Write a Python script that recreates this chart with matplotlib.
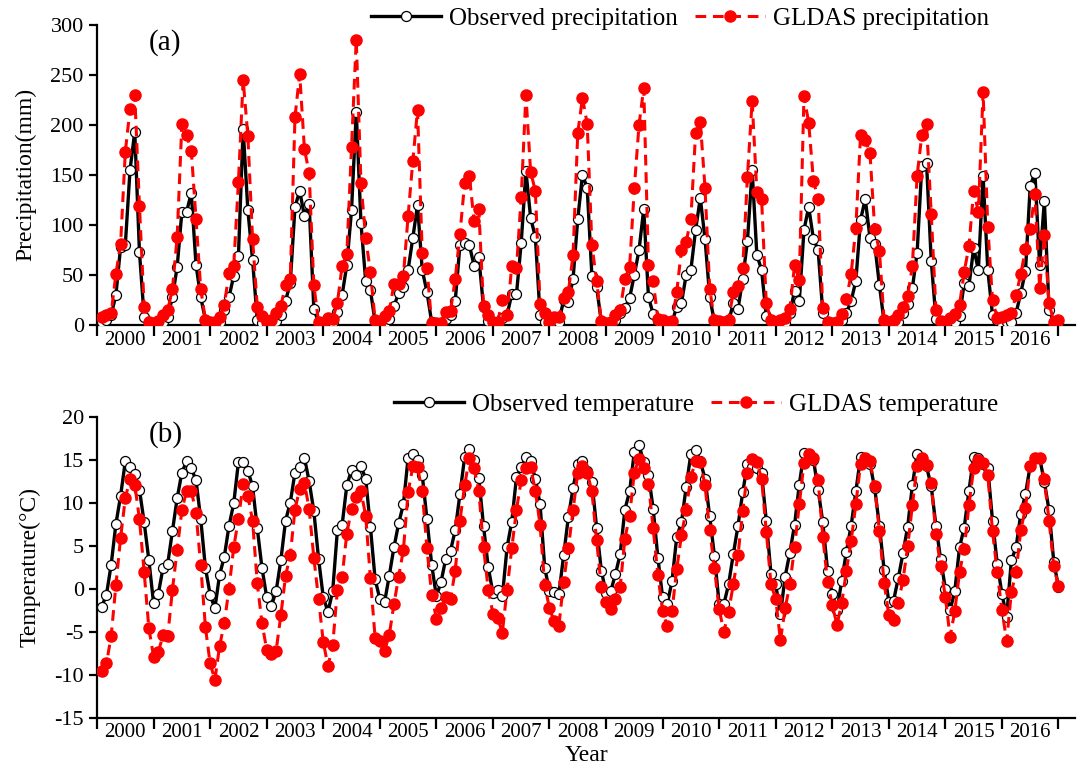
import numpy as np
import matplotlib
matplotlib.use("Agg")
from matplotlib import pyplot as plt
from matplotlib.ticker import FixedLocator, FixedFormatter

plt.rcParams['font.family'] = ['Liberation Serif', 'DejaVu Serif']
plt.rcParams['axes.unicode_minus'] = False

years = [str(y) for y in range(2000, 2017)]

# monthly values, one row per year (Jan..Dec)
obs_prcp = [
    [3, 5, 10, 30, 78, 80, 155, 193, 73, 8, 2, 1],
    [1, 3, 8, 28, 58, 113, 113, 132, 60, 28, 5, 1],
    [1, 3, 15, 28, 49, 69, 196, 115, 65, 5, 2, 1],
    [1, 4, 10, 24, 42, 118, 134, 109, 121, 16, 3, 1],
    [1, 3, 13, 30, 60, 115, 213, 102, 44, 35, 3, 1],
    [2, 6, 19, 32, 38, 55, 87, 120, 55, 33, 3, 1],
    [1, 6, 10, 24, 80, 82, 80, 59, 68, 18, 4, 1],
    [2, 7, 10, 31, 31, 82, 154, 107, 88, 10, 3, 1],
    [2, 3, 25, 23, 46, 106, 150, 137, 49, 38, 3, 1],
    [1, 5, 12, 17, 27, 50, 75, 116, 28, 11, 4, 1],
    [1, 3, 18, 22, 50, 55, 95, 127, 86, 28, 3, 1],
    [1, 3, 22, 16, 46, 84, 155, 70, 55, 9, 3, 1],
    [1, 2, 12, 34, 24, 95, 118, 86, 75, 12, 3, 1],
    [1, 5, 12, 24, 44, 105, 126, 87, 81, 40, 3, 1],
    [1, 3, 12, 21, 37, 72, 159, 162, 64, 6, 2, 1],
    [1, 3, 9, 42, 39, 77, 55, 149, 55, 10, 5, 1],
    [3, 3, 12, 32, 54, 139, 152, 60, 124, 15, 3, 2],
]
gldas_prcp = [
    [8, 10, 12, 51, 81, 173, 216, 230, 119, 18, 3, 2],
    [4, 10, 15, 36, 88, 201, 190, 174, 106, 36, 5, 3],
    [3, 8, 20, 52, 59, 143, 245, 189, 86, 18, 9, 3],
    [5, 12, 19, 40, 46, 208, 251, 176, 152, 40, 3, 2],
    [7, 6, 22, 59, 71, 178, 285, 142, 87, 53, 5, 3],
    [9, 14, 41, 41, 49, 109, 164, 215, 72, 57, 2, 2],
    [2, 13, 14, 46, 91, 142, 149, 104, 116, 19, 10, 3],
    [3, 25, 10, 59, 57, 128, 230, 153, 134, 21, 12, 3],
    [8, 8, 27, 33, 70, 192, 227, 201, 80, 44, 4, 2],
    [3, 10, 15, 46, 58, 137, 200, 237, 60, 44, 6, 5],
    [3, 4, 33, 75, 83, 106, 192, 203, 137, 36, 5, 4],
    [3, 5, 33, 39, 57, 148, 224, 133, 126, 22, 5, 3],
    [5, 7, 16, 60, 45, 229, 202, 144, 126, 17, 3, 2],
    [3, 11, 26, 51, 97, 190, 185, 172, 96, 74, 5, 3],
    [5, 10, 18, 29, 59, 149, 190, 201, 111, 15, 4, 3],
    [7, 11, 20, 53, 79, 134, 113, 233, 98, 25, 7, 8],
    [10, 12, 30, 51, 76, 96, 131, 37, 90, 22, 3, 5],
]
obs_temp = [
    [-2.1, -0.7, 2.8, 7.5, 10.8, 14.8, 14.1, 13.3, 11.5, 7.7, 3.3, -1.7],
    [-0.6, 2.4, 2.9, 6.7, 10.5, 13.5, 14.8, 14.0, 12.6, 8.1, 2.4, -0.7],
    [-2.3, 1.6, 3.7, 7.3, 9.9, 14.7, 14.7, 13.7, 11.9, 7.0, 2.4, -1.0],
    [-2.0, -0.3, 3.3, 7.9, 10.0, 13.5, 14.1, 15.2, 12.5, 9.0, 3.5, -1.0],
    [-2.7, -0.3, 6.8, 7.4, 12.0, 13.8, 13.2, 14.2, 12.8, 7.2, 1.1, -1.2],
    [-1.6, 1.5, 4.8, 7.6, 9.8, 15.2, 15.6, 14.9, 13.2, 8.1, 2.8, -0.9],
    [0.8, 3.5, 4.4, 6.8, 11.0, 15.3, 16.2, 15.0, 12.9, 7.3, 2.5, -0.5],
    [-0.1, -0.9, 4.8, 7.8, 13.0, 14.1, 15.3, 14.8, 12.8, 9.8, 2.4, -0.3],
    [-0.4, -0.6, 3.9, 8.3, 11.7, 14.5, 14.8, 13.7, 12.4, 7.1, 2.1, -0.5],
    [-0.3, 1.7, 4.0, 9.2, 11.3, 15.9, 16.7, 14.7, 13.2, 9.3, 3.6, -1.0],
    [-1.8, 0.9, 6.0, 7.7, 11.8, 15.7, 16.1, 14.8, 12.8, 8.4, 3.8, -1.8],
    [-1.8, 0.5, 4.0, 7.3, 11.2, 14.5, 14.1, 14.0, 13.4, 7.9, 1.7, 0.5],
    [-3.0, 1.4, 4.2, 7.4, 12.1, 15.8, 15.6, 15.0, 11.5, 7.7, 2.1, -0.6],
    [-2.5, 0.9, 4.3, 7.3, 11.3, 15.3, 14.8, 14.5, 11.7, 7.3, 2.2, -1.5],
    [-1.4, 1.2, 4.1, 7.2, 12.0, 15.7, 15.2, 14.2, 11.9, 7.3, 3.4, 0.0],
    [-2.5, -0.3, 4.8, 7.1, 11.4, 15.3, 15.2, 14.5, 14.0, 7.9, 2.9, -0.6],
    [-3.3, 3.3, 4.8, 8.7, 11.0, 14.3, 15.2, 15.2, 12.4, 9.1, 3.1, 0.2],
]
gldas_temp = [
    [-9.6, -8.7, -5.5, 0.4, 5.9, 10.5, 12.8, 12.1, 8.1, 1.9, -4.6, -7.9],
    [-7.4, -5.4, -5.5, -0.1, 4.5, 9.1, 11.4, 11.4, 8.8, 2.7, -4.5, -8.7],
    [-10.6, -6.7, -4.0, 0.0, 4.8, 8.1, 12.2, 10.8, 7.9, 0.6, -4.0, -7.1],
    [-7.6, -7.2, -3.1, 1.5, 3.9, 9.2, 11.6, 12.3, 9.3, 3.6, -1.2, -6.2],
    [-9.0, -6.6, -0.1, 1.4, 6.4, 9.3, 10.7, 11.3, 8.5, 1.2, -5.7, -6.1],
    [-7.2, -5.4, -1.8, 1.4, 4.5, 11.2, 14.2, 14.1, 11.3, 4.7, -0.7, -3.5],
    [-2.3, -1.0, -1.2, 2.1, 7.9, 12.0, 15.2, 14.0, 11.4, 4.8, -0.1, -2.9],
    [-3.4, -5.1, -0.1, 4.7, 9.2, 12.6, 14.0, 14.1, 11.4, 7.4, 0.4, -2.3],
    [-3.8, -4.3, 0.8, 4.7, 9.1, 13.5, 14.3, 13.5, 11.3, 5.6, 0.2, -1.5],
    [-2.4, -1.2, 0.2, 5.8, 8.5, 13.5, 15.1, 14.0, 12.2, 7.0, 1.6, -2.6],
    [-4.4, -2.6, 2.3, 6.2, 9.2, 13.0, 14.8, 14.7, 12.0, 6.8, 2.4, -2.4],
    [-5.0, -2.7, 0.5, 3.9, 9.0, 13.5, 15.1, 14.7, 12.8, 6.6, 0.5, -1.2],
    [-6.0, -2.3, 0.5, 4.8, 9.8, 14.6, 15.6, 15.2, 12.6, 6.0, 0.8, -1.9],
    [-4.2, -1.7, 2.1, 5.5, 9.8, 14.5, 15.2, 14.8, 11.9, 6.7, 0.7, -3.1],
    [-3.7, -1.7, 1.0, 4.9, 9.7, 14.3, 15.2, 14.4, 12.3, 6.3, 2.6, -1.0],
    [-5.6, -2.6, 1.9, 4.6, 9.7, 14.0, 15.0, 14.6, 13.2, 6.7, 1.9, -2.5],
    [-6.1, -0.4, 1.9, 6.8, 9.4, 14.2, 15.2, 15.2, 12.7, 7.9, 2.6, 0.3],
]

n = len(years) * 12
x = np.arange(1, n + 1)
red = '#ff0000'

fig = plt.figure(figsize=(10.83, 7.8), dpi=100)
ax1 = fig.add_axes([0.0896, 0.5833, 0.903, 0.385])
ax2 = fig.add_axes([0.0896, 0.0799, 0.903, 0.386])

panels = [
    (ax1, obs_prcp, gldas_prcp, 'Observed precipitation', 'GLDAS precipitation',
     'Precipitation(mm)', (0, 300), np.arange(0, 301, 50), '(a)'),
    (ax2, obs_temp, gldas_temp, 'Observed temperature', 'GLDAS temperature',
     'Temperature(\u00b0C)', (-15, 20), np.arange(-15, 21, 5), '(b)'),
]

for ax, obs, gl, l1, l2, ylab, ylim, yt, tag in panels:
    ax.plot(x, np.ravel(obs), '-', color='black', lw=2.4, marker='o', ms=7.2,
            mfc='white', mec='black', mew=0.9, label=l1, zorder=3)
    ax.plot(x, np.ravel(gl), '--', color=red, lw=2.2, dashes=(3.5, 2.2), marker='o',
            ms=8, mfc=red, mec=red, label=l2, zorder=4)
    ax.set_xlim(0, 207.5)
    ax.set_ylim(*ylim)
    ax.set_yticks(yt)
    ax.spines['top'].set_visible(False)
    ax.spines['right'].set_visible(False)
    ax.spines['left'].set_linewidth(1.6)
    ax.spines['bottom'].set_linewidth(1.6)
    ax.xaxis.set_major_locator(FixedLocator(np.arange(0, n + 1, 12)))
    ax.xaxis.set_major_formatter(FixedFormatter([''] * 18))
    ax.xaxis.set_minor_locator(FixedLocator(np.arange(6, n, 12)))
    ax.xaxis.set_minor_formatter(FixedFormatter(years))
    ax.tick_params(axis='x', which='major', direction='out', length=8, width=1.6)
    ax.tick_params(axis='x', which='minor', length=0, labelsize=15, pad=4)
    ax.tick_params(axis='y', direction='out', length=6, width=1.6, labelsize=16)
    ax.set_ylabel(ylab, fontsize=17, labelpad=10)
    ax.text(0.07, 0.94, tag, transform=ax.transAxes, fontsize=21, ha='center', va='center')

ax1.legend(loc='center', bbox_to_anchor=(0.628, 0.976), bbox_transform=fig.transFigure,
           ncol=2, frameon=False, fontsize=18, handlelength=2.8, handletextpad=0.3,
           columnspacing=0.7, borderpad=0)
ax2.legend(loc='center', bbox_to_anchor=(0.643, 0.481), bbox_transform=fig.transFigure,
           ncol=2, frameon=False, fontsize=18, handlelength=2.8, handletextpad=0.3,
           columnspacing=0.7, borderpad=0)
ax2.set_xlabel('Year', fontsize=17, labelpad=2)

fig.savefig('out.png', dpi=100)
